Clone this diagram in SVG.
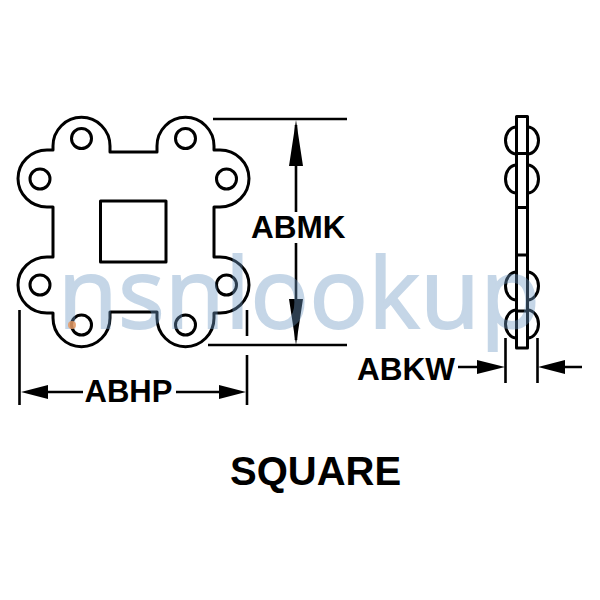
<svg xmlns="http://www.w3.org/2000/svg" width="600" height="600" viewBox="0 0 600 600">
<style>
.l{fill:none;stroke:#000;stroke-width:3;stroke-linejoin:round;stroke-linecap:round}
.d{fill:none;stroke:#000;stroke-width:2.6}
.h{fill:#000;stroke:none}
.t{font-family:"Liberation Sans",Arial,sans-serif;font-weight:700;fill:#000}
.w{font-family:"Open Sans","Noto Sans",sans-serif;font-size:97px;letter-spacing:.7px;fill:#6f9ac4;stroke:#6f9ac4;stroke-width:2;opacity:.4}
</style>
<rect width="600" height="600" fill="#fff"/>
<g id="plate-front">
<path class="l" d="M110 152V146A28.500 28.700 0 0 0 53 146V150H47A29 28.500 0 0 0 47 207H53V257H47A29 28 0 0 0 47 313H53V318A28.500 28.700 0 0 0 110 318V312H157V318A28.500 28.700 0 0 0 214 318V313H220A29 28 0 0 0 220 257H214V207H220A29 28.500 0 0 0 220 150H214V146A28.500 28.700 0 0 0 157 146V152Z"/>
<rect class="l" x="100.500" y="201" width="65.500" height="61"/>
<circle class="l" cx="81.500" cy="138.500" r="10"/>
<circle class="l" cx="185.500" cy="138.500" r="10"/>
<circle class="l" cx="40" cy="179" r="10"/>
<circle class="l" cx="226.500" cy="179" r="10"/>
<circle class="l" cx="40" cy="285" r="10"/>
<circle class="l" cx="226.500" cy="285" r="10"/>
<circle class="l" cx="81.500" cy="325" r="10"/>
<circle class="l" cx="185.500" cy="325" r="10"/>
</g>
<g id="plate-side">
<rect class="l" x="516.500" y="116.500" width="11" height="231.500"/>
<path class="l" d="M516.500 153.500H527.500M516.500 207.500H527.500M516.500 255H527.500M516.500 311H527.500"/>
<path class="l" d="M516.500 127A11 13.500 0 0 0 516.500 154M527.500 127A11 13.500 0 0 1 527.500 154M516.500 165A11 14 0 0 0 516.500 193M527.500 165A11 14 0 0 1 527.500 193M516.500 272A11 14 0 0 0 516.500 300M527.500 272A11 14 0 0 1 527.500 300M516.500 310A11 14 0 0 0 516.500 338M527.500 310A11 14 0 0 1 527.500 338"/>
</g>
<g id="connectors">
<path class="d" d="M213 119H347M208 345H347M296 125V212M296 243V340"/>
<path class="h" d="M296 120L303 166H289ZM296 345L289 299H303Z"/>
<path class="d" d="M19.500 310V405M247 310V336M247 355V405M30 392H83M176 392H236"/>
<path class="h" d="M21 392L48 385V399ZM246 392L219 385V399Z"/>
<path class="d" d="M505.500 338V383M537.500 338V383M458 367H495M550 367H582"/>
<path class="h" d="M505 367L477 360V374ZM538 367L565 360V374Z"/>
</g>
<g id="labels">
<text class="t" x="251" y="238" font-size="31.500">ABMK</text>
<text class="t" x="84.500" y="402" font-size="31">ABHP</text>
<text class="t" x="357" y="380" font-size="31.500">ABKW</text>
<text class="t" x="230" y="485" font-size="40">SQUARE</text>
</g>
<g id="watermark">
<text class="w" x="58" y="328">nsnlookup</text>
<circle cx="72" cy="325" r="4" fill="#e8965a" opacity=".8"/>
</g>
</svg>
